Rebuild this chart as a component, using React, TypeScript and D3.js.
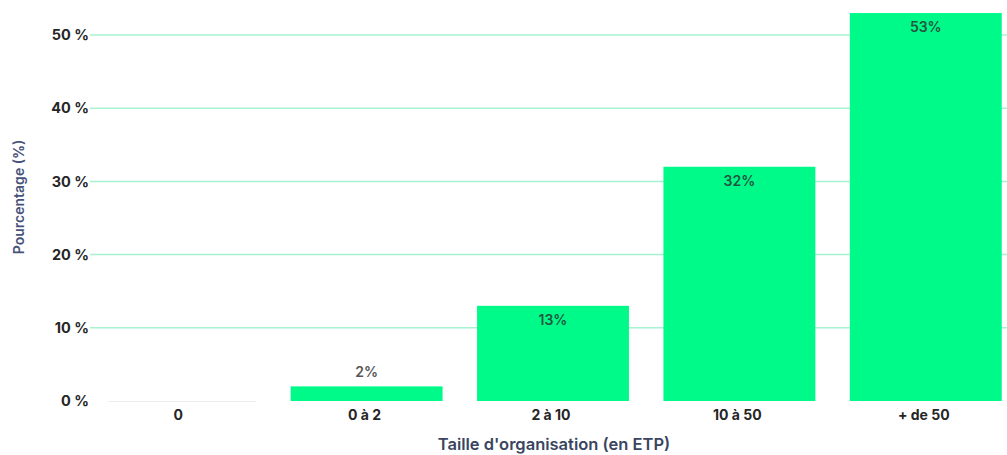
import React, { useRef, useEffect } from 'react';
import * as d3 from 'd3';

const categories = ['0', '0 à 2', '2 à 10', '10 à 50', '+ de 50'];
const values = [0, 2, 13, 32, 53];
const yTicks = [0, 10, 20, 30, 40, 50];

const App: React.FC = () => {
  const ref = useRef<SVGSVGElement | null>(null);
  const width = 1007;
  const height = 455;

  useEffect(() => {
    const svg = d3.select(ref.current);
    svg.selectAll('*').remove();

    const x = d3.scaleBand<string>()
      .domain(categories)
      .range([87, 1019])
      .paddingInner(0.185)
      .paddingOuter(0.0925);
    const y = d3.scaleLinear().domain([0, 50]).range([401, 35]);

    const font = 'Inter, "DejaVu Sans", sans-serif';

    // gridlines
    svg.append('g')
      .selectAll('line')
      .data(yTicks.filter(t => t > 0))
      .join('line')
      .attr('x1', 90)
      .attr('x2', width)
      .attr('y1', d => y(d))
      .attr('y2', d => y(d))
      .attr('stroke', '#a6f3cf')
      .attr('stroke-width', 1.5);

    // faint baseline under the empty "0" bar
    svg.append('line')
      .attr('x1', x('0')! + 4).attr('x2', x('0')! + x.bandwidth())
      .attr('y1', y(0) + 0.5).attr('y2', y(0) + 0.5)
      .attr('stroke', '#ececec')
      .attr('stroke-width', 1);

    // y tick labels
    svg.append('g')
      .selectAll('text')
      .data(yTicks)
      .join('text')
      .attr('x', 89)
      .attr('y', d => y(d))
      .attr('dy', '0.36em')
      .attr('text-anchor', 'end')
      .attr('font-family', font)
      .attr('font-weight', 700)
      .attr('font-size', 14.5)
      .attr('fill', '#262626')
      .text(d => `${d} %`);

    // bars
    svg.append('g')
      .selectAll('rect')
      .data(values)
      .join('rect')
      .attr('x', (_, i) => x(categories[i])!)
      .attr('width', x.bandwidth())
      .attr('y', d => y(d))
      .attr('height', d => y(0) - y(d))
      .attr('fill', '#00fa8a');

    // value labels
    svg.append('g')
      .selectAll('text')
      .data(values)
      .join('text')
      .filter(d => d > 0)
      .attr('x', d => x(categories[values.indexOf(d)])! + x.bandwidth() / 2)
      .attr('y', d => (d < 5 ? y(d) - 9 : y(d) + 19))
      .attr('text-anchor', 'middle')
      .attr('font-family', font)
      .attr('font-weight', 600)
      .attr('font-size', 14)
      .attr('fill', d => (d < 5 ? '#555' : '#22573f'))
      .text(d => `${d}%`);

    // x tick labels
    svg.append('g')
      .selectAll('text')
      .data(categories)
      .join('text')
      .attr('x', d => x(d)! + x.bandwidth() / 2 - 2)
      .attr('y', 420)
      .attr('text-anchor', 'middle')
      .attr('font-family', font)
      .attr('font-weight', 700)
      .attr('font-size', 14)
      .attr('fill', '#262626')
      .text(d => d);

    // axis titles
    svg.append('text')
      .attr('x', 554)
      .attr('y', 450)
      .attr('text-anchor', 'middle')
      .attr('font-family', font)
      .attr('font-weight', 600)
      .attr('font-size', 16.5)
      .attr('fill', '#3a4560')
      .text("Taille d'organisation (en ETP)");

    svg.append('text')
      .attr('transform', 'translate(24,197) rotate(-90)')
      .attr('text-anchor', 'middle')
      .attr('font-family', font)
      .attr('font-weight', 600)
      .attr('font-size', 14)
      .attr('fill', '#47527a')
      .text('Pourcentage (%)');
  }, []);

  return (
    <svg
      ref={ref}
      width={width}
      height={height}
      style={{ position: 'absolute', left: 0, top: 0, background: '#fff' }}
    />
  );
};

export default App;
